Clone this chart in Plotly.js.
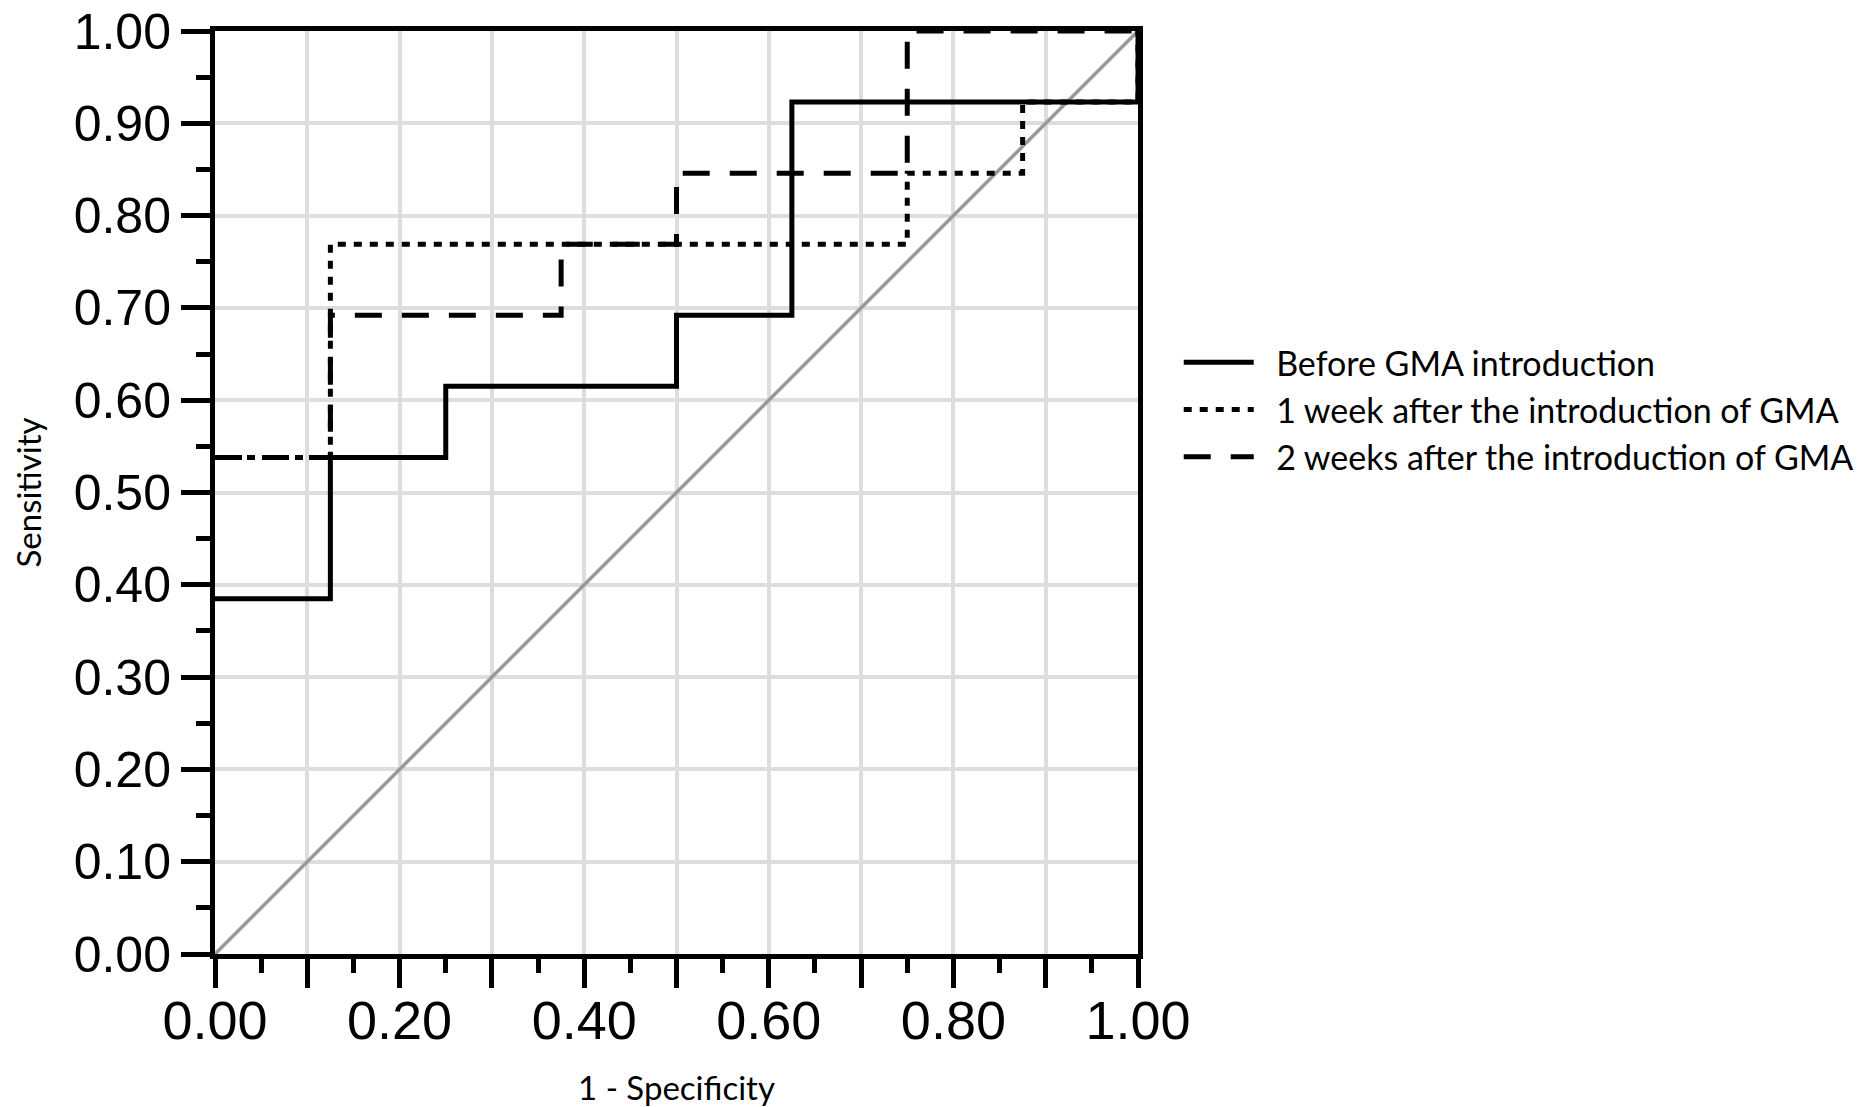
<!DOCTYPE html>
<html>
<head>
<meta charset="utf-8">
<script src="https://cdn.plot.ly/plotly-3.0.1.min.js"></script>
<style>
html,body{margin:0;padding:0;background:#fff;}
#chart{width:1870px;height:1107px;}
</style>
</head>
<body>
<div id="chart"></div>
<script>
// ROC step points (1 - specificity, sensitivity)
const beforeX = [0, 0.125, 0.25, 0.5, 0.625, 1];
const beforeY = [0.385, 0.538, 0.615, 0.692, 0.923, 1.0];

const week1X = [0, 0.125, 0.75, 0.875, 1];
const week1Y = [0.538, 0.769, 0.846, 0.923, 1.0];

const week2X = [0, 0.125, 0.375, 0.5, 0.75, 1];
const week2Y = [0.538, 0.692, 0.769, 0.846, 1.0, 1.0];

const refX = [0, 1];
const refY = [0, 1];

const seriesNames = [
  "Before GMA introduction",
  "1 week after the introduction of GMA",
  "2 weeks after the introduction of GMA"
];

const xTickVals = [0, 0.1, 0.2, 0.3, 0.4, 0.5, 0.6, 0.7, 0.8, 0.9, 1.0];
const xTickText = ["0.00", "", "0.20", "", "0.40", "", "0.60", "", "0.80", "", "1.00"];
const yTickVals = [0, 0.1, 0.2, 0.3, 0.4, 0.5, 0.6, 0.7, 0.8, 0.9, 1.0];
const yTickText = ["0.00", "0.10", "0.20", "0.30", "0.40", "0.50", "0.60", "0.70", "0.80", "0.90", "1.00"];

const xTitle = "1 - Specificity";
const yTitle = "Sensitivity";

const legendPad = "\u00a0\u00a0";

const traces = [
  {x: refX, y: refY, mode: "lines", line: {color: "#999999", width: 3.5}, showlegend: false, hoverinfo: "skip"},
  {x: beforeX, y: beforeY, name: legendPad + seriesNames[0], mode: "lines", line: {shape: "hv", color: "#000", width: 5, dash: "solid"}},
  {x: week1X, y: week1Y, name: legendPad + seriesNames[1], mode: "lines", line: {shape: "hv", color: "#000", width: 5, dash: "8px,8px"}},
  {x: week2X, y: week2Y, name: legendPad + seriesNames[2], mode: "lines", line: {shape: "hv", color: "#000", width: 5, dash: "27px,20px"}}
];

const axisCommon = {
  range: [0, 1],
  showline: true,
  linecolor: "#000",
  linewidth: 5,
  mirror: true,
  ticks: "outside",
  ticklen: 29,
  tickwidth: 5,
  tickcolor: "#000",
  showgrid: true,
  gridcolor: "#dddddd",
  gridwidth: 4,
  zeroline: false,
  tickmode: "array",
  ticklabeloverflow: "allow",
  minor: {tickmode: "linear", tick0: 0, dtick: 0.05, ticks: "outside", ticklen: 14, tickwidth: 5, tickcolor: "#000", showgrid: false}
};

const layout = {
  width: 1870,
  height: 1107,
  margin: {l: 215, r: 731, t: 31, b: 153},
  paper_bgcolor: "#fff",
  plot_bgcolor: "#fff",
  showlegend: true,
  legend: {
    x: 1.043, y: 0.672, xanchor: "left", yanchor: "top",
    font: {family: "Lato, 'Open Sans', sans-serif", size: 34, color: "#000"},
    bgcolor: "rgba(0,0,0,0)",
    itemwidth: 70,
    tracegroupgap: 0
  },
  xaxis: Object.assign({}, axisCommon, {
    tickvals: xTickVals,
    ticktext: xTickText,
    ticklabelstandoff: -14,
    tickfont: {family: "'Liberation Sans', Arial, sans-serif", size: 54, color: "#000"},
    title: {text: xTitle, font: {family: "Lato, 'Open Sans', sans-serif", size: 33, color: "#000"}, standoff: 30}
  }),
  yaxis: Object.assign({}, axisCommon, {
    tickvals: yTickVals,
    ticktext: yTickText,
    tickfont: {family: "'Liberation Sans', Arial, sans-serif", size: 50, color: "#000"},
    title: {text: yTitle, font: {family: "Lato, 'Open Sans', sans-serif", size: 33, color: "#000"}, standoff: 24}
  })
};

Plotly.newPlot("chart", traces, layout, {displayModeBar: false, staticPlot: true});
</script>
</body>
</html>
